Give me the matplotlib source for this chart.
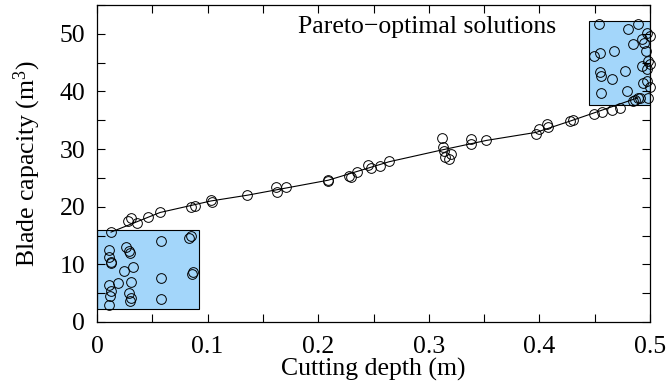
import matplotlib
matplotlib.use('Agg')
import matplotlib.pyplot as plt
from matplotlib.patches import Rectangle
from matplotlib.ticker import MultipleLocator

plt.rcParams['font.family'] = ['Liberation Serif', 'DejaVu Serif']
plt.rcParams['mathtext.fontset'] = 'custom'
plt.rcParams['mathtext.rm'] = 'Liberation Serif'
plt.rcParams['mathtext.it'] = 'Liberation Serif:italic'

# ---------------------------------------------
# pareto front points (middle part)
front_x = [0.0127, 0.028, 0.031, 0.036, 0.046, 0.057, 0.085, 0.089, 0.103, 0.104,
           0.136, 0.162, 0.163, 0.171, 0.209, 0.209, 0.228, 0.230, 0.235, 0.245,
           0.248, 0.256, 0.264, 0.312, 0.313, 0.314, 0.315, 0.318, 0.320, 0.338,
           0.338, 0.352, 0.397, 0.400, 0.407, 0.408, 0.428, 0.430, 0.449, 0.457,
           0.466, 0.473, 0.485, 0.489]
front_y = [15.6, 17.5, 18.0, 17.1, 18.3, 19.0, 19.9, 20.2, 21.1, 20.8,
           22.0, 23.5, 22.5, 23.4, 24.7, 24.4, 25.3, 25.1, 26.1, 27.3,
           26.8, 27.0, 28.0, 31.9, 30.3, 29.6, 28.7, 28.3, 29.2, 31.8,
           30.8, 31.5, 32.7, 33.4, 34.4, 33.9, 34.8, 35.1, 36.1, 36.5,
           36.8, 37.2, 38.4, 38.9]

# fitted trend line through the front
line_x = [0.0127, 0.057, 0.103, 0.136, 0.209, 0.264, 0.313, 0.352, 0.397, 0.430, 0.489]
line_y = [15.6, 19.0, 21.0, 22.0, 24.6, 27.8, 29.9, 31.5, 32.9, 35.0, 38.9]

# lower-left cluster
low_x = [0.085, 0.083, 0.058, 0.011, 0.026, 0.030, 0.011, 0.013, 0.0127, 0.033,
         0.024, 0.058, 0.087, 0.086, 0.031, 0.019, 0.011, 0.013, 0.029, 0.012,
         0.031, 0.030, 0.058, 0.011, 0.029]
low_y = [15.0, 14.5, 14.0, 12.5, 13.0, 12.0, 11.2, 10.4, 10.2, 9.5,
         8.8, 7.6, 8.7, 8.3, 6.9, 6.7, 6.4, 5.4, 5.0, 4.5,
         4.1, 3.7, 4.0, 3.0, 12.3]

# upper-right cluster
up_x = [0.454, 0.489, 0.480, 0.497, 0.500, 0.493, 0.495, 0.485, 0.467, 0.449,
        0.455, 0.498, 0.500, 0.493, 0.497, 0.455, 0.456, 0.477, 0.466, 0.494,
        0.497, 0.479, 0.456, 0.500, 0.498, 0.491, 0.486, 0.496]
up_y = [51.7, 51.7, 50.8, 50.2, 49.6, 49.1, 48.4, 48.2, 47.1, 46.2,
        46.6, 45.3, 44.8, 44.5, 43.9, 43.3, 42.7, 43.6, 42.2, 41.5,
        41.9, 40.1, 39.8, 40.7, 38.9, 38.9, 38.6, 47.0]

box_low = (0.0, 2.2, 0.092, 15.9)   # x0, y0, x1, y1
box_up = (0.445, 37.7, 0.5, 52.2)

fig = plt.figure(figsize=(6.7, 3.89), dpi=100)
ax = fig.add_axes([97/670, 1-322/389, (650-97)/670, (322-5)/389])

for b in (box_low, box_up):
    ax.add_patch(Rectangle((b[0], b[1]), b[2]-b[0], b[3]-b[1],
                           facecolor='#a3d6fa', edgecolor='black', lw=0.8, zorder=1))

ax.plot(line_x, line_y, color='black', lw=0.8, zorder=2)

mk = dict(marker='o', ls='none', ms=7, mfc='none', mec='black', mew=0.7,
          clip_on=False, zorder=3)
ax.plot(front_x, front_y, **mk)
ax.plot(low_x, low_y, **mk)
ax.plot(up_x, up_y, **mk)

ax.set_xlim(0, 0.5)
ax.set_ylim(0, 55)
ax.xaxis.set_minor_locator(MultipleLocator(0.05))
ax.yaxis.set_major_locator(MultipleLocator(10))
ax.yaxis.set_minor_locator(MultipleLocator(5))
ax.set_xticks([0, 0.1, 0.2, 0.3, 0.4, 0.5])
ax.set_xticklabels(['0', '0.1', '0.2', '0.3', '0.4', '0.5'])
ax.tick_params(which='both', direction='in', top=True, right=True, labelsize=18.5,
               width=0.8, length=6)
ax.tick_params(axis='x', pad=10)
ax.tick_params(axis='y', pad=8.5)
for s in ax.spines.values():
    s.set_linewidth(0.9)

ax.set_xlabel('Cutting depth (m)', fontsize=18.5, labelpad=0)
ax.set_ylabel('Blade capacity (m$^3$)', fontsize=18.5, labelpad=12)
ax.text(0.363, 0.965, 'Pareto\u2212optimal solutions', transform=ax.transAxes,
        fontsize=18.5, va='top', ha='left')

fig.savefig('out.png', dpi=100)
